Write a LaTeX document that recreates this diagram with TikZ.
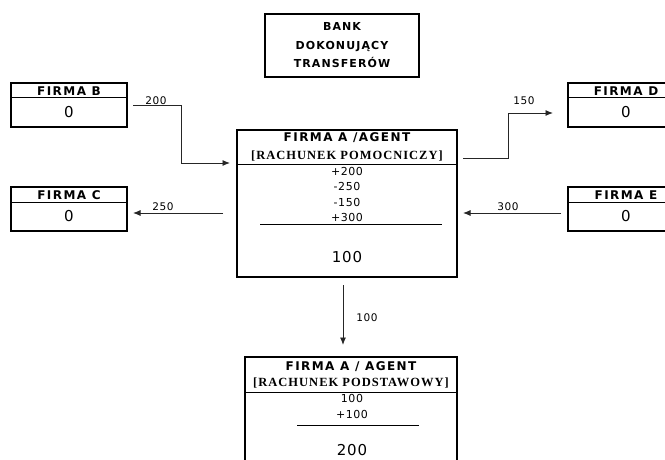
\documentclass[tikz,border=0pt]{standalone}
\usepackage{fontspec}
\setmainfont{DejaVu Sans}
\newfontfamily\boxfont[LetterSpace=12]{DejaVu Sans}
\newfontfamily\bankfont[LetterSpace=10]{DejaVu Sans}
\newfontfamily\numfont[LetterSpace=5]{DejaVu Sans}
\newfontfamily\accfont[LetterSpace=8]{Liberation Serif}
\usetikzlibrary{arrows.meta}

\tikzset{
  box/.style={draw, line width=2.6pt, inner sep=0pt, outer sep=0pt},
  firmbox/.style={box, minimum width=116pt, minimum height=44pt},
  sep/.style={line width=1pt},
  hdr/.style={font=\fontsize{12}{19}\boxfont\bfseries, inner sep=0pt},
  bnk/.style={font=\fontsize{11}{18.5}\bankfont\bfseries, inner sep=0pt},
  acc/.style={font=\fontsize{12.5}{14}\accfont\bfseries, inner sep=0pt},
  num/.style={font=\fontsize{11}{12}\numfont, inner sep=0pt},
  res/.style={font=\fontsize{15}{17}\numfont, inner sep=0pt},
  lbl/.style={font=\fontsize{10.5}{12}\numfont, inner sep=0pt},
  arr/.style={-{Latex[length=7.5pt,width=6pt]}, line width=0.9pt, black!85}
}

\begin{document}
\begin{tikzpicture}[x=1pt,y=-1pt]
\clip (0,0) rectangle (665,460);
\fill[white] (0,0) rectangle (665,460);
% bank
\node[box, bnk, align=center, minimum width=154pt, minimum height=63pt] (bank) at (342,45.5) {BANK\\DOKONUJĄCY\\TRANSFERÓW};
% firms
\node[firmbox] (B) at (69,105) {};
\draw[sep] ([yshift=-15pt]B.north west) -- ([yshift=-15pt]B.north east);
\node[hdr] (Bh) at ([yshift=-8pt]B.north) {FIRMA B};
\node[res] (Bv) at ([yshift=-29pt]B.north) {0};
\node[firmbox] (C) at (69,209) {};
\draw[sep] ([yshift=-15pt]C.north west) -- ([yshift=-15pt]C.north east);
\node[hdr] (Ch) at ([yshift=-8pt]C.north) {FIRMA C};
\node[res] (Cv) at ([yshift=-29pt]C.north) {0};
\node[firmbox] (D) at (626,105) {};
\draw[sep] ([yshift=-15pt]D.north west) -- ([yshift=-15pt]D.north east);
\node[hdr] (Dh) at ([yshift=-8pt]D.north) {FIRMA D};
\node[res] (Dv) at ([yshift=-29pt]D.north) {0};
\node[firmbox] (E) at (626,209) {};
\draw[sep] ([yshift=-15pt]E.north west) -- ([yshift=-15pt]E.north east);
\node[hdr] (Eh) at ([yshift=-8pt]E.north) {FIRMA E};
\node[res] (Ev) at ([yshift=-29pt]E.north) {0};
% agent, auxiliary account
\node[box, minimum width=220pt, minimum height=147pt] (A) at (347,203.5) {};
\draw[sep] ([yshift=-34pt]A.north west) -- ([yshift=-34pt]A.north east);
\node[hdr] (Ah) at (347,138) {FIRMA A /AGENT};
\node[acc] (Aa) at (347,156) {[RACHUNEK POMOCNICZY]};
\node[num] (A1) at (347,171) {+200};
\node[num] (A2) at (347,186) {-250};
\node[num] (A3) at (347,202) {-150};
\node[num] (A4) at (347,217) {+300};
\draw[sep] (260,224) -- (442,224);
\node[res] (As) at (347,257) {100};
% agent, main account
\node[box, minimum width=212pt, minimum height=118pt] (P) at (351,416) {};
\draw[sep] ([yshift=-35pt]P.north west) -- ([yshift=-35pt]P.north east);
\node[hdr] (Ph) at (351,367) {FIRMA A / AGENT};
\node[acc] (Pa) at (351,383) {[RACHUNEK PODSTAWOWY]};
\node[num] (P1) at (352,398) {100};
\node[num] (P2) at (352,414) {+100};
\draw[sep] (297,425) -- (419,425);
\node[res] (Ps) at (352,450) {200};
% transfers
\coordinate (k1) at (181,163);
\coordinate (k2) at (508,113);
\coordinate (y158) at (0,158);
\coordinate (y213) at (0,213);
\coordinate (x343) at (343,0);
\draw[arr] ([xshift=6pt]B.east) -| (k1) -- ([xshift=-7pt]A.west |- k1);
\draw[arr] ([xshift=6pt]A.east |- y158) -| (k2) -- ([xshift=-15pt]D.west |- k2);
\draw[arr] ([xshift=-14pt]A.west |- y213) -- ([xshift=6pt]C.east |- y213);
\draw[arr] ([xshift=-7pt]E.west |- y213) -- ([xshift=6pt]A.east |- y213);
\draw[arr] ([yshift=-8pt]A.south -| x343) -- ([yshift=12pt]P.north -| x343);
\node[lbl] (l200) at (156,101) {200};
\node[lbl] (l150) at (524,101) {150};
\node[lbl] (l250) at (163,207) {250};
\node[lbl] (l300) at (508,207) {300};
\node[lbl] (l100) at (367,318) {100};
\end{tikzpicture}
\end{document}
